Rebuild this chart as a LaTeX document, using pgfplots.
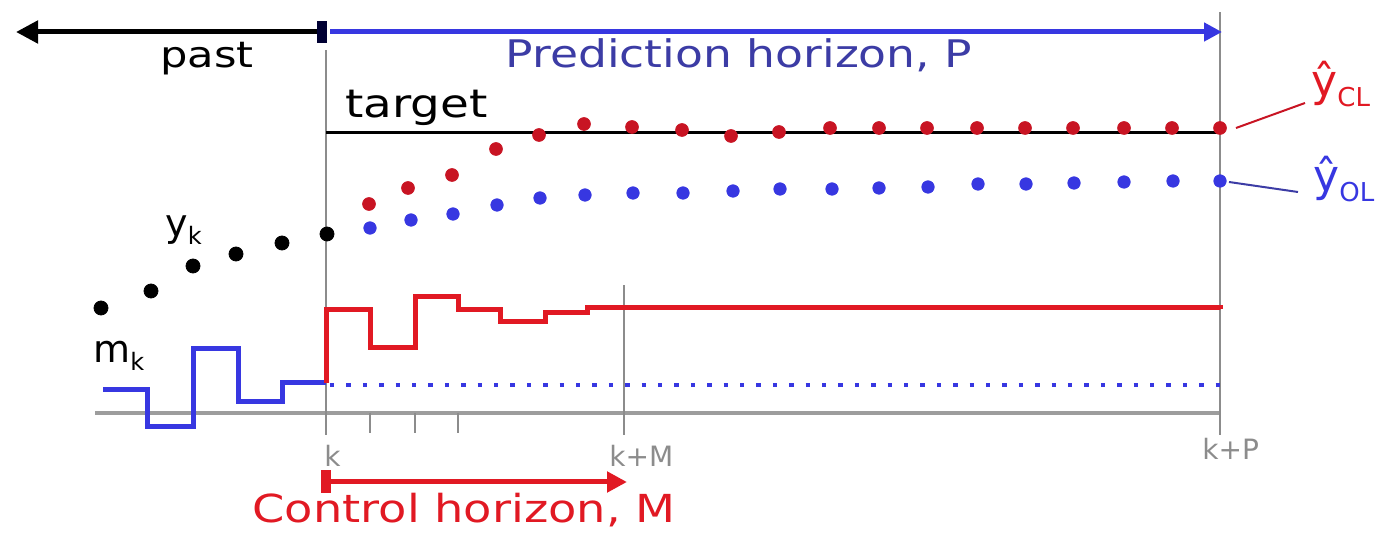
\documentclass[border=0pt]{standalone}
\usepackage{fontspec}
\setmainfont{DejaVu Sans}
\newfontfamily\wide[FakeStretch=1.2]{DejaVu Sans}
\usepackage{pgfplots}
\pgfplotsset{compat=1.18}
\usetikzlibrary{arrows.meta}
\definecolor{myred}{RGB}{225,25,35}
\definecolor{dotred}{RGB}{200,20,35}
\definecolor{myblue}{RGB}{55,55,225}
\definecolor{navy}{RGB}{60,60,165}
\definecolor{mygray}{RGB}{140,140,140}

\pgfplotstableread{
x y
101 222
151 239
193 264
236 276
282 287
327 296
}\pastdots

\pgfplotstableread{
x y
369 326
408 342
452 355
496 381
539 395
584 406
632 403
682 400
731 394
779 398
830 402
879 402
927 402
977 402
1025 402
1073 402
1124 402
1172 402
1220 402
}\reddots

\pgfplotstableread{
x y
370 302
411 310
453 316
497 325
540 332
585 335
633 337
683 337
733 339
780 341
832 341
879 342
928 343
978 346
1026 346
1074 347
1124 348
1173 349
1220 349
}\bluedots

\pgfplotstableread{
x y
103 140
147 103
193 181
238 128
282 147
326 147
}\pastinput

\pgfplotstableread{
x y
326 147
326 220
370 182
415 233
458 220
500 208
545 217
587 222
1220 221
}\futureinput

\begin{document}
\begin{tikzpicture}
\begin{axis}[
  width=690.5pt, height=265pt, scale only axis,
  xmin=0, xmax=1381, ymin=0, ymax=530,
  hide axis, clip=false,
]
\path (axis cs:0,0) rectangle (axis cs:1381,530);

% gray time axis and vertical markers
\addplot[mygray!85, line width=1.6pt] coordinates {(95,117) (1220,117)};
\addplot[mygray, line width=1pt] coordinates {(326,95) (326,480)};
\addplot[mygray, line width=1pt] coordinates {(624,95) (624,245)};
\addplot[mygray, line width=1pt] coordinates {(1220,95) (1220,518)};
\addplot[mygray, line width=0.8pt] coordinates {(370,117) (370,97)};
\addplot[mygray, line width=0.8pt] coordinates {(415,117) (415,97)};
\addplot[mygray, line width=0.8pt] coordinates {(458,117) (458,97)};

% target line
\addplot[black, line width=1.5pt] coordinates {(326,397) (1220,397)};

% inputs
\addplot[const plot, myblue, line width=2.5pt] table {\pastinput};
\addplot[myblue, line width=2.2pt, dash pattern=on 2.2pt off 6pt] coordinates {(330,145) (1220,145)};
\addplot[const plot, myred, line width=2.5pt] table {\futureinput};

% outputs
\addplot[only marks, mark=*, mark size=3.5pt, black] table {\pastdots};
\addplot[only marks, mark=*, mark size=3.1pt, myblue, mark options={draw=myblue, fill=myblue}] table {\bluedots};
\addplot[only marks, mark=*, mark size=3.2pt, dotred, mark options={draw=dotred, fill=dotred}] table {\reddots};

% horizon arrows
\draw[black, line width=2.5pt, -{Triangle[length=11pt,width=11pt]}] (axis cs:322,498) -- (axis cs:16,498);
\draw[myblue, line width=2.5pt, -{Triangle[length=9pt,width=9pt]}] (axis cs:330,498) -- (axis cs:1222,498);
\draw[black!80!blue, line width=5pt] (axis cs:322,487) -- (axis cs:322,509);
\draw[myred, line width=2.5pt, -{Triangle[length=10pt,width=10pt]}] (axis cs:326,48) -- (axis cs:627,48);
\draw[myred, line width=5pt] (axis cs:326,37) -- (axis cs:326,60);

% leader lines
\draw[dotred, line width=1pt] (axis cs:1236,402) -- (axis cs:1305,427);
\draw[navy, line width=1pt] (axis cs:1229,348) -- (axis cs:1298,338);

% texts
\node[anchor=base, font=\wide\fontsize{18}{20}\selectfont] at (axis cs:207,462) {past};
\node[anchor=base, text=navy, font=\wide\fontsize{19}{21}\selectfont] at (axis cs:739,462) {Prediction horizon, P};
\node[anchor=base west, inner sep=0pt, font=\wide\fontsize{19.5}{21}\selectfont] at (axis cs:345,412) {target};
\node[anchor=base, text=myred, font=\wide\fontsize{19.3}{21}\selectfont] at (axis cs:464,8) {Control horizon, M};
\node[anchor=base west, inner sep=0pt, text=mygray, font=\fontsize{14}{16}\selectfont] at (axis cs:324,63) {k};
\node[anchor=base west, inner sep=0pt, text=mygray, font=\fontsize{14}{16}\selectfont] at (axis cs:609,63) {k+M};
\node[anchor=base west, inner sep=0pt, text=mygray, font=\fontsize{14}{16}\selectfont] at (axis cs:1202,70) {k+P};
\node[anchor=base west, inner sep=0pt, font=\fontsize{19}{21}\selectfont] at (axis cs:165,293) {y\raisebox{-4pt}{\fontsize{12}{14}\selectfont k}};
\node[anchor=base west, inner sep=0pt, font=\fontsize{19}{21}\selectfont] at (axis cs:93,167) {m\raisebox{-4pt}{\fontsize{12}{14}\selectfont k}};
\node[anchor=base west, inner sep=0pt, text=myred, font=\fontsize{22}{24}\selectfont] at (axis cs:1311,433) {ŷ\raisebox{-5pt}{\fontsize{13}{15}\selectfont CL}};
\node[anchor=base west, inner sep=0pt, text=myblue, font=\fontsize{22}{24}\selectfont] at (axis cs:1313,338) {ŷ\raisebox{-5pt}{\fontsize{13}{15}\selectfont OL}};
\end{axis}
\end{tikzpicture}
\end{document}
